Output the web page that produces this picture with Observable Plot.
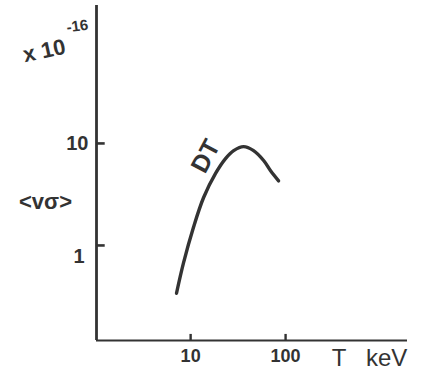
<!DOCTYPE html>
<html>
<head>
<meta charset="utf-8">
<script src="https://cdn.jsdelivr.net/npm/d3@7"></script>
<script src="https://cdn.jsdelivr.net/npm/@observablehq/plot@0.6"></script>
<style>
  html, body { margin: 0; padding: 0; background: #fff; }
  svg { font-family: "Liberation Sans", "DejaVu Sans", sans-serif; }
</style>
</head>
<body>
<div id="chart"></div>
<script>
// Temperature T (keV) and reactivity <σv> (units of 1e-16 cm^3/s), DT curve
const temperature = [7.1, 8.4, 10.7, 13.7, 18.3, 23.3, 28.4, 36.1, 46, 58.7, 69.5, 84.4];
const reactivity  = [0.34, 0.67, 1.5, 2.95, 5.08, 7.1, 8.5, 9.3, 8.5, 6.8, 5.4, 4.3];
const xTicks = [10, 100];
const yTicks = [1, 10];
const xDomain = [1.02, 1923];
const yDomain = [0.117, 225];

const data = temperature.map((t, i) => ({t, v: reactivity[i]}));
const ink = "#333";

const chart = Plot.plot({
  width: 433,
  height: 379,
  marginLeft: 96,
  marginRight: 26,
  marginTop: 5,
  marginBottom: 39,
  x: {type: "log", domain: xDomain, label: null},
  y: {type: "log", domain: yDomain, label: null},
  axis: null,
  marks: [
    Plot.ruleX([xDomain[0]], {stroke: ink, strokeWidth: 2.8}),
    Plot.ruleY([yDomain[0]], {stroke: ink, strokeWidth: 2.2}),
    // inward tick marks
    Plot.link(yTicks, {x1: () => xDomain[0], x2: () => xDomain[0] * 1.22, y1: d => d, y2: d => d, stroke: ink, strokeWidth: 2.6}),
    Plot.link(xTicks, {x1: d => d, x2: d => d, y1: () => yDomain[0], y2: () => yDomain[0] * 1.16, stroke: ink, strokeWidth: 2.4}),
    Plot.text(xTicks, {x: d => d, frameAnchor: "bottom", dy: 21, textAnchor: "middle", text: d => String(d), fontSize: 18, fontWeight: "bold", fill: ink}),
    Plot.text([yTicks[1]], {y: d => d, frameAnchor: "left", dx: -8, textAnchor: "end", text: d => String(d), fontSize: 20, fontWeight: "bold", fill: ink}),
    Plot.text([yTicks[0]], {y: d => d, frameAnchor: "left", dx: -12, dy: 11, textAnchor: "end", text: d => String(d), fontSize: 20, fontWeight: "bold", fill: ink}),
    Plot.line(data, {x: "t", y: "v", curve: "catmull-rom", stroke: ink, strokeWidth: 3.4, strokeLinecap: "round"}),
    Plot.text(["DT"], {x: [14.4], y: [7.5], text: d => d, rotate: -62, fontSize: 25, fontWeight: "bold", fill: ink}),
    Plot.text(["x 10"], {frameAnchor: "top-left", dx: -54, dy: 37, rotate: -12, textAnchor: "middle", text: d => d, fontSize: 22, fontWeight: "bold", fill: ink}),
    Plot.text(["-16"], {frameAnchor: "top-left", dx: -20, dy: 15, rotate: -8, textAnchor: "middle", text: d => d, fontSize: 15, fontWeight: "bold", fill: ink}),
    Plot.text(["<vσ>"], {frameAnchor: "top-left", dx: -51, dy: 188, textAnchor: "middle", text: d => d, fontSize: 22, fontWeight: "bold", fill: ink}),
    Plot.text(["T   keV"], {frameAnchor: "bottom-right", dx: -38, dy: 25, textAnchor: "middle", text: d => d, fontSize: 24, fill: ink})
  ]
});
document.getElementById("chart").appendChild(chart);
</script>
</body>
</html>
